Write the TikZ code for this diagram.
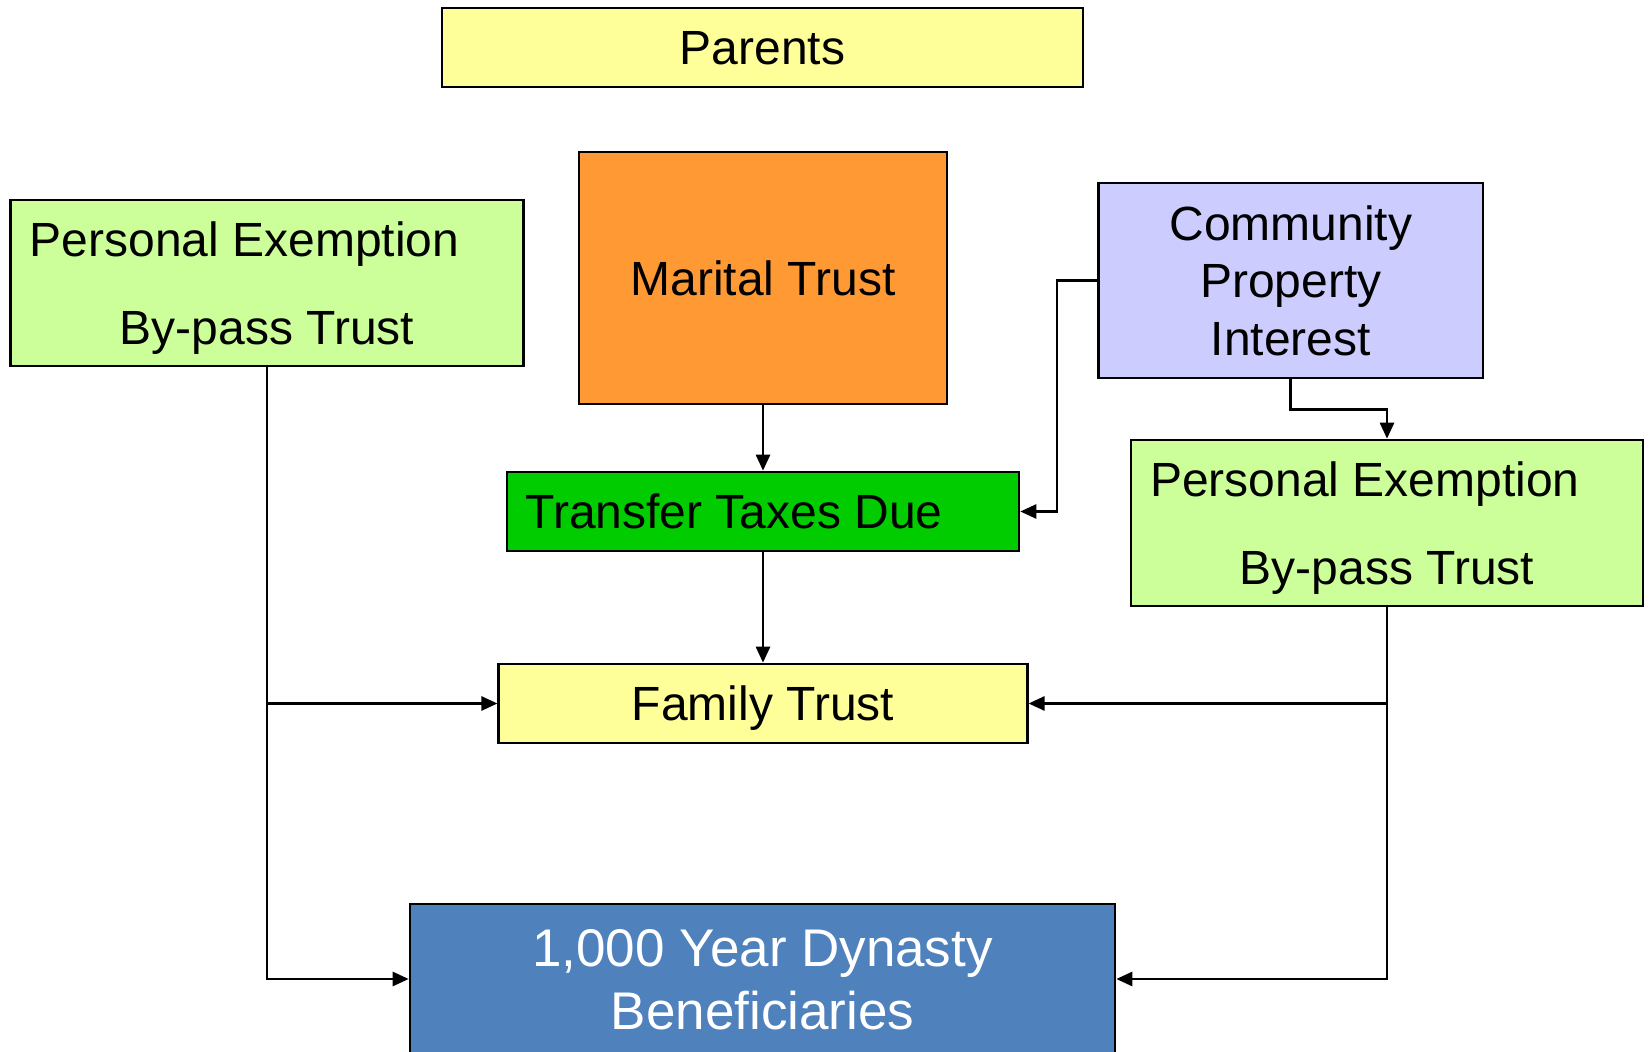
\documentclass[tikz,border=0pt]{standalone}
\usepackage{fontspec}
\setmainfont{Liberation Sans}
\usetikzlibrary{arrows.meta}
\definecolor{paleyellow}{HTML}{FFFF99}
\definecolor{orangebox}{HTML}{FF9933}
\definecolor{lightgreen}{HTML}{CCFF99}
\definecolor{lavender}{HTML}{CCCCFF}
\definecolor{brightgreen}{HTML}{00CC00}
\definecolor{dynblue}{HTML}{4F81BD}
\tikzset{
  box/.style={draw=black, line width=1.3pt, inner sep=0pt, align=center, text depth=0pt,
    font=\fontsize{24pt}{28.75pt}\selectfont},
  twoline/.style={font=\fontsize{24pt}{43.75pt}\selectfont},
  arr/.style={line width=1.3pt, -{Triangle[length=8pt,width=7pt]}}
}
\begin{document}
\begin{tikzpicture}[x=0.5pt,y=-0.5pt]
\useasboundingbox (0,0) rectangle (1650,1052);
\fill[white] (0,0) rectangle (1650,1052);
\clip (0,0) rectangle (1650,1052);
\node[box, fill=paleyellow, minimum width=320.5pt, minimum height=39.5pt] (par) at (762.5,47.5) {Parents};
\node[box, fill=orangebox, minimum width=184pt, minimum height=126pt] (mar) at (763,278) {Marital Trust};
\node[box, twoline, fill=lightgreen, minimum width=256.25pt, minimum height=83pt] (pe1) at (267,283) {Personal Exemption\rule{22.5pt}{0pt}\\By-pass Trust};
\node[box, fill=lavender, minimum width=192.35pt, minimum height=97.5pt] (cpi) at (1290.7,280.5) {Community\\Property\\Interest};
\node[box, fill=brightgreen, minimum width=256pt, minimum height=39.5pt] (ttd) at (763,511.5) {Transfer Taxes Due\rule{29pt}{0pt}};
\node[box, twoline, fill=lightgreen, minimum width=256pt, minimum height=83pt] (pe2) at (1387,523) {Personal Exemption\rule{22pt}{0pt}\\By-pass Trust};
\node[box, fill=paleyellow, minimum width=264.25pt, minimum height=39.5pt] (fam) at (763,703.5) {Family Trust};
\node[box, fill=dynblue, text=white, minimum width=352.5pt, minimum height=75pt,
  font=\fontsize{26.5pt}{31.5pt}\selectfont] (dyn) at (762.5,979) {1,000 Year Dynasty\\Beneficiaries};
\draw[arr] (mar.south) -- (ttd.north);
\draw[arr] (ttd.south) -- (fam.north);
\draw[arr] (cpi.west) -- ++(-40,0) |- (ttd.east);
\draw[arr] (cpi.south) -- ++(0,30) -| (pe2.north);
\draw[arr] (pe1.south) |- (dyn.west);
\draw[arr] (pe1.south |- fam.west) -- (fam.west);
\draw[arr] (pe2.south) |- (dyn.east);
\draw[arr] (pe2.south |- fam.east) -- (fam.east);
\end{tikzpicture}
\end{document}
